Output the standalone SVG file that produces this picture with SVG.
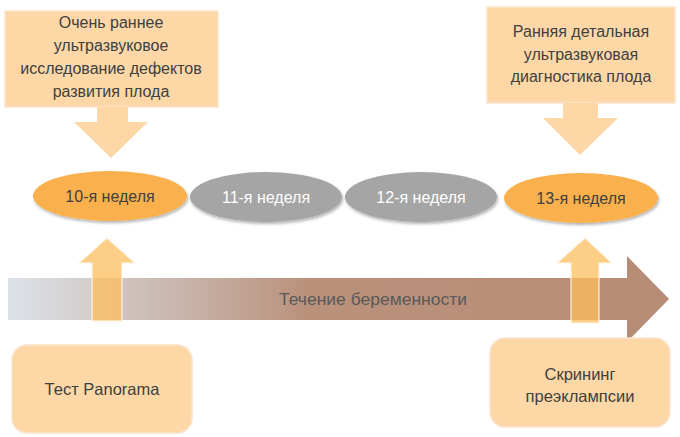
<svg xmlns="http://www.w3.org/2000/svg" width="680" height="437" viewBox="0 0 680 437">
<style>
.t{font-family:"Liberation Sans","DejaVu Sans",sans-serif;font-size:16px;fill:#404040;text-anchor:middle}
.e{font-family:"Liberation Sans","DejaVu Sans",sans-serif;font-size:16px;text-anchor:middle}
.peach{fill:#fdd8a6}
.box{fill:#fdd8a6;stroke:#fbe3cc;stroke-width:1.5}
.up{fill:#fcbd5c;fill-opacity:0.75;stroke:#fff3e6;stroke-width:1.2}
</style>
<defs>
<linearGradient id="g" x1="8" y1="0" x2="670" y2="0" gradientUnits="userSpaceOnUse">
<stop offset="0" stop-color="#dde3ea"/>
<stop offset="0.45" stop-color="#ba927c"/>
<stop offset="1" stop-color="#b78c77"/>
</linearGradient>
<filter id="sh" x="-10%" y="-20%" width="120%" height="150%">
<feDropShadow dx="1" dy="2" stdDeviation="1.5" flood-color="#000" flood-opacity="0.3"/>
</filter>
</defs>
<g id="timeline">
<path d="M8,278 H627 V256 L669,299 L627,342 V320 H8 Z" fill="url(#g)"/>
<text x="373" y="305" class="t" style="fill:#595959;font-size:17px" textLength="188" lengthAdjust="spacingAndGlyphs">Течение беременности</text>
</g>
<g id="box-top-left">
<rect x="5" y="11" width="213" height="96" class="box"/>
<text class="t"><tspan x="111" y="28">Очень раннее</tspan><tspan x="111" y="51">ультразвуковое</tspan><tspan x="111" y="74">исследование дефектов</tspan><tspan x="111" y="97">развития плода</tspan></text>
</g>
<g id="box-top-right">
<rect x="487" y="7" width="188" height="96" class="box"/>
<text class="t"><tspan x="581" y="37">Ранняя детальная</tspan><tspan x="581" y="60">ультразвуковая</tspan><tspan x="581" y="82">диагностика плода</tspan></text>
</g>
<g id="w10">
<ellipse cx="110" cy="196" rx="77" ry="25" fill="#f9b04d" filter="url(#sh)"/>
<text x="110" y="201.5" class="e" fill="#404040">10-я неделя</text>
</g>
<g id="w11">
<ellipse cx="266" cy="197" rx="76" ry="25" fill="#a5a5a5" filter="url(#sh)"/>
<text x="266" y="202.5" class="e" fill="#ffffff">11-я неделя</text>
</g>
<g id="w12">
<ellipse cx="421" cy="197" rx="76" ry="25" fill="#a5a5a5" filter="url(#sh)"/>
<text x="421" y="202.5" class="e" fill="#ffffff">12-я неделя</text>
</g>
<g id="w13">
<ellipse cx="581" cy="198" rx="77" ry="25" fill="#f9b04d" filter="url(#sh)"/>
<text x="581" y="203.5" class="e" fill="#404040">13-я неделя</text>
</g>
<g id="box-bottom-left">
<rect x="12" y="345" width="180" height="88" rx="15" class="box"/>
<text x="102" y="395" class="t" style="font-size:16.5px">Тест Panorama</text>
</g>
<g id="box-bottom-right">
<rect x="490" y="338" width="180" height="89" rx="15" class="box"/>
<text class="t" style="font-size:16.5px"><tspan x="580" y="380">Скрининг</tspan><tspan x="580" y="402">преэклампсии</tspan></text>
</g>
<g id="connectors">
<path d="M97,107 H128 V122 H148 L111,158 L74,122 H97 Z" class="peach"/>
<path d="M563,103 H598 V118 H618 L580,155 L543,118 H563 Z" class="peach"/>
<path d="M92,321 V263 H79 L107,238 L135,263 H122 V321 Z" class="up"/>
<path d="M571,323 V263 H557 L585,238 L612,263 H599 V323 Z" class="up"/>
</g>
</svg>
